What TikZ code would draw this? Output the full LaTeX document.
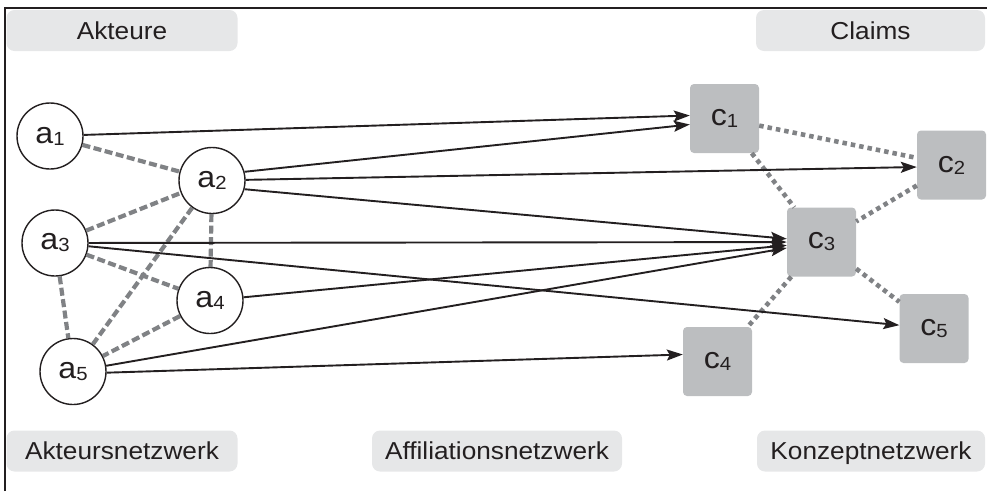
\documentclass[tikz,border=0pt]{standalone}
\usepackage{fontspec}
\setmainfont{Liberation Sans}[FakeStretch=1.07]
\usetikzlibrary{arrows.meta}
\definecolor{ink}{HTML}{231F20}
\definecolor{labelfill}{HTML}{E6E7E8}
\definecolor{claimfill}{HTML}{BCBEC0}
\definecolor{linkgray}{HTML}{808285}
\newcommand{\nodelabel}[2]{#1\raisebox{-2pt}{\fontsize{19}{19}\selectfont #2}}
\tikzset{
  panel/.style={fill=labelfill, rounded corners=8pt, inner sep=0pt,
    minimum width=231pt, minimum height=41pt, text height=17.5pt, text depth=0pt,
    text=ink, font=\fontsize{24.5}{28}\selectfont},
  actor/.style={circle, draw=ink, line width=1.4pt, fill=white, minimum size=66pt,
    inner sep=0pt, text=ink, font=\fontsize{30}{31}\selectfont},
  claim/.style={rectangle, rounded corners=4pt, fill=claimfill, minimum size=69pt,
    inner sep=0pt, text=ink, font=\fontsize{30}{31}\selectfont},
  arr/.style={draw=ink, line width=1.9pt, -{Stealth[length=16pt,width=11pt,inset=3pt]}},
  actorlink/.style={draw=linkgray, line width=4.2pt, dash pattern=on 8pt off 3.5pt},
  claimlink/.style={draw=linkgray, line width=4.6pt, dash pattern=on 4.5pt off 4pt}
}
\begin{document}
\begin{tikzpicture}[x=1pt,y=-1pt]
\useasboundingbox (0,0) rectangle (987,491);
% frame
\draw[ink, line width=1.4pt] (5,491) -- (5,8) -- (987,8);

% headings and section labels
\node[panel] (hakt) at (122,30.5) {Akteure};
\node[panel, minimum width=229pt] (hclaims) at (870.5,30.5) {Claims};
\node[panel] (lakt) at (122,451) {Akteursnetzwerk};
\node[panel, minimum width=250pt] (laff) at (497,451) {Affiliationsnetzwerk};
\node[panel, minimum width=228pt] (lkon) at (871,451) {Konzeptnetzwerk};

% actors
\node[actor] (a1) at (50,136) {\nodelabel{a}{1}};
\node[actor] (a2) at (212,180.5) {\nodelabel{a}{2}};
\node[actor] (a3) at (55,243) {\nodelabel{a}{3}};
\node[actor] (a4) at (210,300.5) {\nodelabel{a}{4}};
\node[actor] (a5) at (73,371.5) {\nodelabel{a}{5}};

% claims
\node[claim] (c1) at (724.5,118.5) {\nodelabel{c}{1}};
\node[claim] (c2) at (951.5,165) {\nodelabel{c}{2}};
\node[claim] (c3) at (821.5,242) {\nodelabel{c}{3}};
\node[claim] (c4) at (717.5,361.5) {\nodelabel{c}{4}};
\node[claim] (c5) at (934,328.5) {\nodelabel{c}{5}};

% actor network
\draw[actorlink] (a1) -- (a2);
\draw[actorlink] (a3) -- (a2);
\draw[actorlink] (a2) -- (a4);
\draw[actorlink] (a2) -- (a5);
\draw[actorlink] (a3) -- (a4);
\draw[actorlink] (a3) -- (a5);
\draw[actorlink] (a4) -- (a5);

% concept network
\draw[claimlink] (c1) -- (c2);
\draw[claimlink] (c1) -- (c3);
\draw[claimlink] (c2) -- (c3);
\draw[claimlink] (c3) -- (c4);
\draw[claimlink] (c3) -- (c5);

% affiliation network
\draw[arr] (a1) -- ([yshift=3pt]c1.west);
\draw[arr] (a2.15) -- ([yshift=-6pt]c1.west);
\draw[arr] (a2) -- ([yshift=-2pt]c2.west);
\draw[arr] (a2.-15) -- (c3);
\draw[arr] (a3) -- (c3);
\draw[arr] (a3) -- (c5);
\draw[arr] (a4) -- (c3);
\draw[arr] (a5) -- (c3);
\draw[arr] (a5.-2) -- ([yshift=7pt]c4.west);
\end{tikzpicture}
\end{document}
